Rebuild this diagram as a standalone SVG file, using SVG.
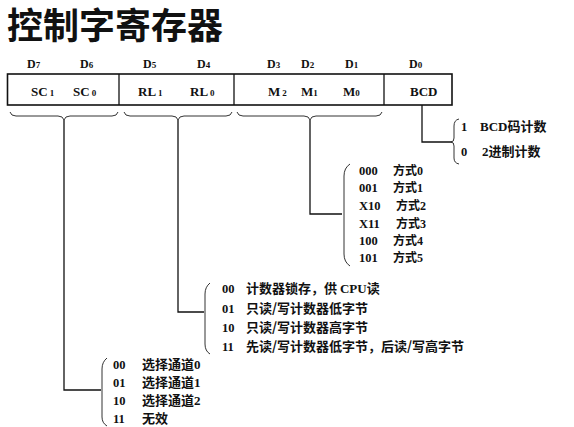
<svg xmlns="http://www.w3.org/2000/svg" width="574" height="427" viewBox="0 0 574 427">
<style>
.t{font-family:"Noto Sans CJK SC","Noto Sans",sans-serif;font-weight:bold;font-size:36px;fill:#111}
.d{font-family:"Liberation Serif","Noto Sans CJK SC",serif;font-weight:bold;font-size:12px;fill:#111}
.b{font-family:"Liberation Serif","Noto Sans CJK SC",serif;font-weight:bold;font-size:13px;fill:#111}
.s{font-size:9px}
.l{font-family:"Liberation Serif","Noto Sans CJK SC",serif;font-weight:bold;font-size:12.5px;fill:#111}
.c{font-family:"Noto Sans CJK SC","Liberation Serif",serif;font-weight:bold;font-size:13px;fill:#111}
.m{font-family:"Noto Sans CJK SC","Liberation Serif",serif;font-weight:bold;font-size:12px;fill:#111}
.ln{fill:none;stroke:#111;stroke-width:1.3}
.br{fill:none;stroke:#333;stroke-width:1}
</style>
<rect width="574" height="427" fill="#fff"/>
<text class="t" x="7" y="39">控制字寄存器</text>

<g id="register">
<rect x="7.5" y="74" width="444.5" height="31" fill="none" stroke="#111" stroke-width="1.6"/>
<line x1="119" y1="74" x2="119" y2="105" stroke="#111" stroke-width="1.3"/>
<line x1="234" y1="74" x2="234" y2="105" stroke="#111" stroke-width="1.3"/>
<line x1="384" y1="74" x2="384" y2="105" stroke="#111" stroke-width="1.3"/>
<text class="d" x="27" y="68">D<tspan class="s">7</tspan></text>
<text class="d" x="80" y="68">D<tspan class="s">6</tspan></text>
<text class="d" x="143" y="68">D<tspan class="s">5</tspan></text>
<text class="d" x="197" y="68">D<tspan class="s">4</tspan></text>
<text class="d" x="267" y="68">D<tspan class="s">3</tspan></text>
<text class="d" x="301" y="68">D<tspan class="s">2</tspan></text>
<text class="d" x="345" y="68">D<tspan class="s">1</tspan></text>
<text class="d" x="409" y="68">D<tspan class="s">0</tspan></text>
<text class="b" x="31" y="96">SC<tspan class="s" dx="2">1</tspan></text>
<text class="b" x="73" y="96">SC<tspan class="s" dx="2">0</tspan></text>
<text class="b" x="138" y="96">RL<tspan class="s" dx="2">1</tspan></text>
<text class="b" x="190" y="96">RL<tspan class="s" dx="2">0</tspan></text>
<text class="b" x="268" y="96">M<tspan class="s" dx="2">2</tspan></text>
<text class="b" x="301" y="96">M<tspan class="s">1</tspan></text>
<text class="b" x="343" y="96">M<tspan class="s">0</tspan></text>
<text class="b" x="410" y="96">BCD</text>
</g>

<g id="braces">
<path class="br" d="M10,112 Q11,116 16,116 L58,116 Q63,116 64,120 Q65,116 70,116 L112,116 Q117,116 118,112"/>
<path class="br" d="M124,112 Q125,116 130,116 L172,116 Q177,116 178,120 Q179,116 184,116 L226,116 Q231,116 232,112"/>
<path class="br" d="M237,112 Q238,116 243,116 L304,116 Q309,116 310,120 Q311,116 316,116 L376,116 Q381,116 382,112"/>
</g>

<g id="connectors">
<path class="ln" d="M64,120 V390 H101"/>
<path class="ln" d="M178,120 V312 H204"/>
<path class="ln" d="M310,120 V214 H342"/>
<path class="ln" d="M422,105 V142 H452"/>
</g>

<g id="bcd-options">
<path class="br" d="M459,119 Q454,120 454,126 L454,138 Q454,142 451,142 Q454,142 454,146 L454,158 Q454,163 459,164"/>
<text class="l" x="461" y="131">1</text>
<text class="c" x="480" y="131"><tspan font-family="Liberation Serif">BCD</tspan>码计数</text>
<text class="l" x="461" y="156">0</text>
<text class="c" x="482" y="156"><tspan font-family="Liberation Serif">2</tspan>进制计数</text>
</g>

<g id="mode-options">
<path class="br" d="M350,164 Q344,168 344,176 L344,254 Q344,262 350,266"/>
<text class="l" x="359" y="175">000</text><text class="m" x="393" y="175">方式<tspan font-family="Liberation Serif">0</tspan></text>
<text class="l" x="359" y="192">001</text><text class="m" x="393" y="192">方式<tspan font-family="Liberation Serif">1</tspan></text>
<text class="l" x="359" y="210">X10</text><text class="m" x="396" y="210">方式<tspan font-family="Liberation Serif">2</tspan></text>
<text class="l" x="359" y="228">X11</text><text class="m" x="396" y="228">方式<tspan font-family="Liberation Serif">3</tspan></text>
<text class="l" x="359" y="245">100</text><text class="m" x="393" y="245">方式<tspan font-family="Liberation Serif">4</tspan></text>
<text class="l" x="359" y="262">101</text><text class="m" x="393" y="262">方式<tspan font-family="Liberation Serif">5</tspan></text>
</g>

<g id="rw-options">
<path class="br" d="M210,283 Q205,287 205,294 L205,344 Q205,351 210,354"/>
<text class="l" x="222" y="293">00</text><text class="c" x="246" y="293">计数器锁存，供 <tspan font-family="Liberation Serif">CPU</tspan>读</text>
<text class="l" x="222" y="313">01</text><text class="c" x="246" y="313">只读/写计数器低字节</text>
<text class="l" x="222" y="332">10</text><text class="c" x="246" y="332">只读/写计数器高字节</text>
<text class="l" x="222" y="351">11</text><text class="c" x="246" y="351">先读/写计数器低字节，后读/写高字节</text>
</g>

<g id="sc-options">
<path class="br" d="M107,358 Q102,362 102,369 L102,417 Q102,423 107,426"/>
<text class="l" x="113" y="369">00</text><text class="c" x="142" y="369">选择通道<tspan font-family="Liberation Serif">0</tspan></text>
<text class="l" x="113" y="387">01</text><text class="c" x="142" y="387">选择通道<tspan font-family="Liberation Serif">1</tspan></text>
<text class="l" x="113" y="405">10</text><text class="c" x="142" y="405">选择通道<tspan font-family="Liberation Serif">2</tspan></text>
<text class="l" x="113" y="423">11</text><text class="c" x="142" y="423">无效</text>
</g>
</svg>
